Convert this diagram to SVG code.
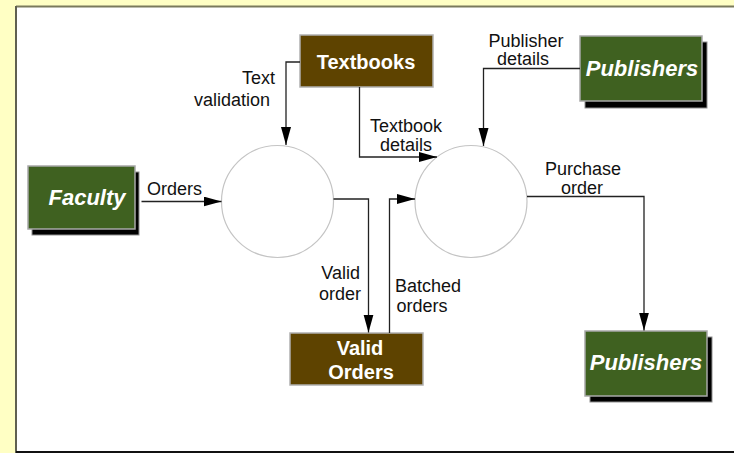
<svg xmlns="http://www.w3.org/2000/svg" width="734" height="453" viewBox="0 0 734 453">
<defs>
<style>
.lbl{font-family:"Liberation Sans",Arial,sans-serif;font-size:18px;fill:#111}
.nt{font-family:"Liberation Sans",Arial,sans-serif;font-weight:bold;fill:#fff;text-anchor:middle}
.ext{fill:#3f6120;stroke:#a8a8a8;stroke-width:1.5}
.sh{fill:#000;stroke:#909090;stroke-width:1}
.store{fill:#5e4300;stroke:#b0b0b0;stroke-width:1.5}
.proc{fill:#fff;stroke:#c4c4c4;stroke-width:1.2}
.cn{fill:none;stroke:#222;stroke-width:1.3}
</style>
<marker id="ah" markerUnits="userSpaceOnUse" markerWidth="19" markerHeight="11" refX="18" refY="5" orient="auto">
<path d="M0,0 L18,5 L0,10 Z" fill="#000"/>
</marker>
</defs>
<rect x="0" y="0" width="734" height="453" fill="#ffffc4"/>
<rect x="16" y="7" width="718" height="445" fill="#fff"/>
<line x1="16" y1="6.5" x2="734" y2="6.5" stroke="#7a7a5c" stroke-width="2"/>
<line x1="16" y1="6" x2="16" y2="453" stroke="#606050" stroke-width="2"/>
<line x1="16" y1="452" x2="734" y2="452" stroke="#111" stroke-width="2"/>

<g id="faculty">
<rect class="sh" x="32" y="172" width="107" height="63"/>
<rect class="ext" x="28" y="166" width="107" height="63"/>
<text class="nt" x="87" y="205" font-size="22" font-style="italic">Faculty</text>
</g>
<g id="textbooks">
<rect class="store" x="300" y="35" width="133" height="52"/>
<text class="nt" x="366" y="69" font-size="20">Textbooks</text>
</g>
<g id="publishers-top">
<rect class="sh" x="585" y="42" width="122" height="66"/>
<rect class="ext" x="580" y="36" width="122" height="65"/>
<text class="nt" x="642" y="76" font-size="22" font-style="italic">Publishers</text>
</g>
<g id="publishers-bottom">
<rect class="sh" x="590" y="337" width="122" height="65"/>
<rect class="ext" x="585" y="331" width="122" height="65"/>
<text class="nt" x="646" y="370" font-size="22" font-style="italic">Publishers</text>
</g>
<g id="valid-orders">
<rect class="store" x="290" y="333" width="133" height="52"/>
<text class="nt" x="360" y="355" font-size="20">Valid</text>

<text class="nt" x="361" y="379" font-size="20">Orders</text>
</g>
<g id="process-1">
<circle class="proc" cx="277.5" cy="201.5" r="56"/>
</g>
<g id="process-2">
<circle class="proc" cx="471" cy="201.5" r="56"/>
</g>

<g id="connectors">
<polyline class="cn" points="300,62 286,62 286,145" marker-end="url(#ah)"/>
<polyline class="cn" points="359.5,87 359.5,157 437,157" marker-end="url(#ah)"/>
<polyline class="cn" points="580,68.5 483.5,68.5 483.5,146" marker-end="url(#ah)"/>
<polyline class="cn" points="141.5,201.5 221.5,201.5" marker-end="url(#ah)"/>
<polyline class="cn" points="333.5,199 368.5,199 368.5,332.5" marker-end="url(#ah)"/>
<polyline class="cn" points="389.5,333 389.5,199 415,199" marker-end="url(#ah)"/>
<polyline class="cn" points="527,196.5 644,196.5 644,330.5" marker-end="url(#ah)"/>
</g>

<g id="labels">
<text class="lbl" x="242" y="84">Text</text>
<text class="lbl" x="194" y="106">validation</text>
<text class="lbl" x="406" y="131.5" text-anchor="middle">Textbook</text>
<text class="lbl" x="406" y="150.5" text-anchor="middle">details</text>
<text class="lbl" x="526" y="46.5" text-anchor="middle">Publisher</text>
<text class="lbl" x="523" y="65" text-anchor="middle">details</text>
<text class="lbl" x="147" y="195">Orders</text>
<text class="lbl" x="360" y="279" text-anchor="end">Valid</text>
<text class="lbl" x="361" y="300" text-anchor="end">order</text>
<text class="lbl" x="395" y="291.5">Batched</text>
<text class="lbl" x="396.5" y="311.5">orders</text>
<text class="lbl" x="583" y="175" text-anchor="middle">Purchase</text>
<text class="lbl" x="582" y="194" text-anchor="middle">order</text>
</g>
</svg>
